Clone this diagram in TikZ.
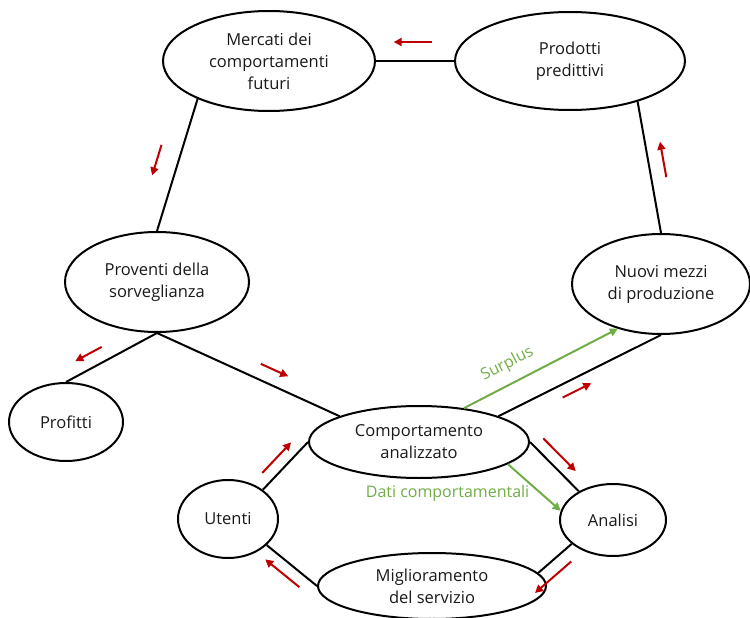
\documentclass[tikz,border=0pt]{standalone}
\usepackage{fontspec}
\setmainfont{Open Sans}
\usetikzlibrary{shapes.geometric,arrows.meta,decorations.markings}
\definecolor{flowred}{RGB}{192,0,0}
\definecolor{datagreen}{RGB}{112,173,71}
\tikzset{
	stage/.style={ellipse,draw,line width=2pt,inner sep=0pt,align=center,
		text=black!90,font=\fontsize{16.5}{22}\selectfont},
	link/.style={line width=2pt},
	flow/.style n args={3}{postaction={decorate,decoration={markings,
		mark=at position #1 with {\draw[flowred,line width=2pt,-{Triangle[length=8pt,width=8pt]}]
			(-#3pt,#2pt) -- (#3pt,#2pt);}}}},
	data/.style={datagreen,line width=2pt,-{Triangle[length=8pt,width=8pt]}},
	datalabel/.style={font=\fontsize{16}{18}\selectfont}
}
\begin{document}
\begin{tikzpicture}[x=1pt,y=-1pt]
	\useasboundingbox (0,0) rectangle (750,618);
	% ciclo superiore
	\node[stage,minimum width=212,minimum height=100] (merc) at (269,61) {Mercati dei\\comportamenti\\futuri};
	\node[stage,minimum width=230,minimum height=98] (prod) at (570,61) {Prodotti\\predittivi};
	\node[stage,minimum width=184,minimum height=100] (prov) at (157,282) {Proventi della\\sorveglianza};
	\node[stage,minimum width=178,minimum height=100] (nuovi) at (661,284) {Nuovi mezzi\\di produzione};
	\node[stage,minimum width=114,minimum height=78] (prof) at (66,422) {Profitti};
	% ciclo inferiore
	\node[stage,minimum width=220,minimum height=72] (comp) at (419,442) {Comportamento\\analizzato};
	\node[stage,minimum width=100,minimum height=78] (uten) at (228,519) {Utenti};
	\node[stage,minimum width=106,minimum height=72] (anal) at (613,520) {Analisi};
	\node[stage,minimum width=228,minimum height=66] (migl) at (432,586) {Miglioramento\\del servizio};

	\draw[link,flow={0.53}{-19}{19}] (prod.west) -- (merc.east);
	\draw[link,flow={0.51}{-21}{16}] (merc.208) -- (prov.north);
	\draw[link,flow={0.54}{-15}{18}] (nuovi.north) -- (prod.-31);
	\draw[link,flow={0.68}{-14}{15}] (prov.south) -- (prof.north);
	\draw[link,flow={0.61}{15}{15}] (prov.south) -- (comp.162);
	\draw[link,flow={0.45}{-12}{16}] (comp.18) -- (nuovi.south);
	\draw[link,flow={0.43}{12}{23}] (comp.east) -- (anal.140);
	\draw[link,flow={0.81}{13}{24}] (anal.210) -- (migl.7);
	\draw[link,flow={0.54}{12}{22}] (migl.west) -- (uten.-34);
	\draw[link,flow={0.5}{12}{21}] (uten.40) -- (comp.west);

	\draw[data] (comp.37) -- node[datalabel,pos=0.34,sloped,above=7pt] {Surplus} (nuovi.-134);
	\draw[data] (comp.-14) -- node[datalabel,pos=0.62,left=7pt] {Dati comportamentali} (anal.170);
\end{tikzpicture}
\end{document}
